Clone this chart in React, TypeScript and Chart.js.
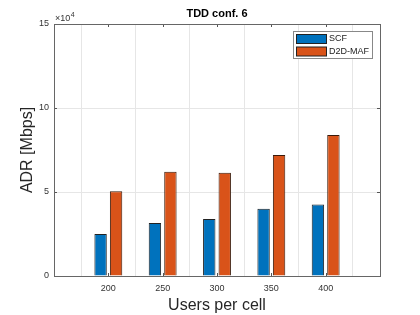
import React, { useEffect, useRef } from "react";
import { Chart, registerables } from "chart.js";

Chart.register(...registerables);

const users = [200, 250, 300, 350, 400];
const scfValues = [25000, 31500, 34000, 40000, 42500];
const d2dValues = [50500, 62000, 61500, 72000, 84000];
const seriesNames = ["SCF", "D2D-MAF"];
const chartTitle = "TDD conf. 6";
const xTitle = "Users per cell";
const yTitle = "ADR [Mbps]";

const FONT = "'Liberation Sans', Arial, Helvetica, sans-serif";
const COLORS = ["#0072BD", "#D95319"];

const decorPlugin = {
  id: "decor",
  afterDraw(chart: any) {
    const { ctx, chartArea } = chart;
    const { left, right, top, bottom } = chartArea;
    ctx.save();
    // inward ticks
    ctx.strokeStyle = "#555";
    ctx.lineWidth = 1;
    const xs = chart.scales.x;
    const ys = chart.scales.y;
    xs.ticks.forEach((t: any) => {
      const px = Math.round(xs.getPixelForValue(t.value)) + 0.5;
      ctx.beginPath();
      ctx.moveTo(px, bottom);
      ctx.lineTo(px, bottom - 3);
      ctx.moveTo(px, top);
      ctx.lineTo(px, top + 3);
      ctx.stroke();
    });
    ys.ticks.forEach((t: any) => {
      const py = Math.round(ys.getPixelForValue(t.value)) + 0.5;
      ctx.beginPath();
      ctx.moveTo(left, py);
      ctx.lineTo(left + 3, py);
      ctx.moveTo(right, py);
      ctx.lineTo(right - 3, py);
      ctx.stroke();
    });
    // box
    ctx.strokeStyle = "#666";
    ctx.strokeRect(Math.round(left) + 0.5, Math.round(top) + 0.5, Math.round(right - left), Math.round(bottom - top));
    // title
    ctx.fillStyle = "#000";
    ctx.font = `bold 11px ${FONT}`;
    ctx.textAlign = "center";
    ctx.textBaseline = "middle";
    ctx.fillText(chartTitle, (left + right) / 2, 14);
    // exponent
    ctx.fillStyle = "#333";
    ctx.textAlign = "left";
    ctx.textBaseline = "alphabetic";
    ctx.font = `9px ${FONT}`;
    ctx.fillText("\u00d710", left + 1, 21);
    const w = ctx.measureText("\u00d710").width;
    ctx.font = `7px ${FONT}`;
    ctx.fillText("4", left + 1 + w + 0.5, 17);
    // legend
    const lx = 293, ly = 31, lw = 79, lh = 27;
    ctx.fillStyle = "#fff";
    ctx.fillRect(lx, ly, lw, lh);
    ctx.strokeStyle = "#888";
    ctx.strokeRect(lx + 0.5, ly + 0.5, lw, lh);
    chart.data.datasets.forEach((ds: any, i: number) => {
      const sy = 34 + i * 12.5;
      ctx.fillStyle = ds.backgroundColor;
      ctx.fillRect(296.5, sy + 0.5, 30, 9);
      ctx.strokeStyle = "#222";
      ctx.strokeRect(296.5, sy + 0.5, 30, 9);
      ctx.fillStyle = "#222";
      ctx.font = `9px ${FONT}`;
      ctx.textBaseline = "middle";
      ctx.fillText(ds.label, 329, sy + 5);
    });
    ctx.restore();
  },
};

export default function App() {
  const ref = useRef<HTMLCanvasElement | null>(null);
  useEffect(() => {
    if (!ref.current) return;
    const chart = new Chart(ref.current, {
      type: "bar",
      data: {
        datasets: [
          {
            label: seriesNames[0],
            data: users.map((u, i) => ({ x: u, y: scfValues[i] })),
            backgroundColor: COLORS[0],
            borderColor: "#222",
            borderWidth: 1,
          },
          {
            label: seriesNames[1],
            data: users.map((u, i) => ({ x: u, y: d2dValues[i] })),
            backgroundColor: COLORS[1],
            borderColor: "#3a1a0a",
            borderWidth: 1,
          },
        ],
      },
      options: {
        responsive: false,
        animation: false,
        devicePixelRatio: 1,
        categoryPercentage: 0.57,
        barPercentage: 0.8,
        layout: { padding: { left: 0, top: 24, right: 40, bottom: 0 } },
        plugins: { legend: { display: false }, title: { display: false }, tooltip: { enabled: false } },
        scales: {
          x: {
            type: "linear",
            min: 150,
            max: 450,
            offset: false,
            afterFit: (s: any) => {
              s.height = 39;
            },
            ticks: {
              stepSize: 50,
              padding: 7,
              color: "#333",
              font: { family: FONT, size: 9 },
              callback: (v: any) => (v === 150 || v === 450 ? "" : String(v)),
            },
            grid: { color: "#e6e6e6", drawTicks: false },
            border: { display: false },
            title: {
              display: true,
              text: xTitle,
              color: "#262626",
              font: { family: FONT, size: 16 },
              padding: { top: 0, bottom: 0 },
            },
          },
          y: {
            min: 0,
            max: 150000,
            afterFit: (s: any) => {
              s.width = 54;
            },
            ticks: {
              stepSize: 50000,
              padding: 5,
              color: "#333",
              font: { family: FONT, size: 9 },
              callback: (v: any) => String(v / 10000),
            },
            grid: { color: "#e6e6e6", drawTicks: false },
            border: { display: false },
            title: {
              display: true,
              text: yTitle,
              color: "#262626",
              font: { family: FONT, size: 16 },
              padding: { top: 18, bottom: 0 },
            },
          },
        },
      },
      plugins: [decorPlugin],
    } as any);
    return () => chart.destroy();
  }, []);
  return (
    <div style={{ position: "absolute", left: 0, top: 0, width: 420, height: 315, background: "#fff" }}>
      <canvas ref={ref} width={420} height={315} />
    </div>
  );
}
